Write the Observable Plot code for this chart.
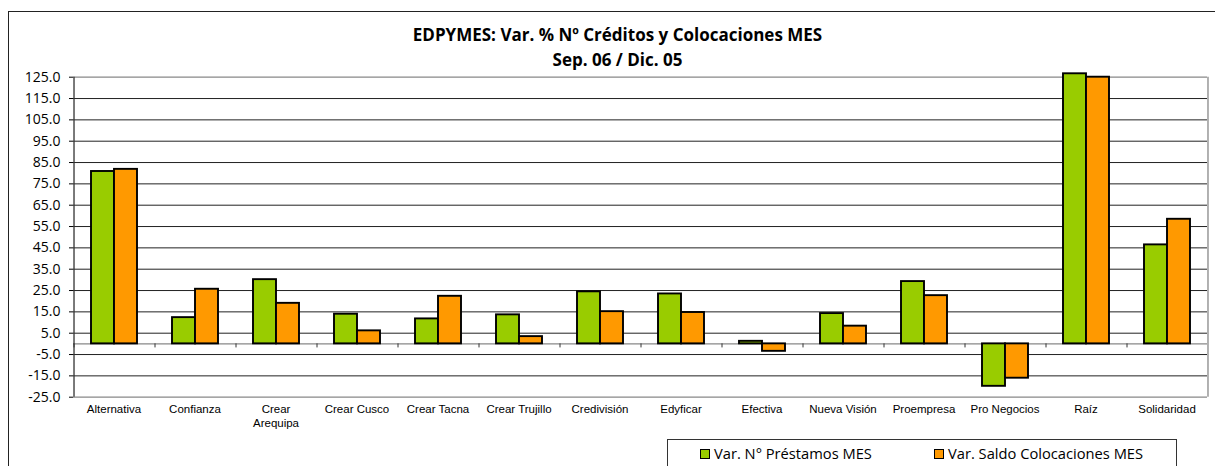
<!DOCTYPE html>
<html>
<head>
<meta charset="utf-8">
<script src="https://cdn.jsdelivr.net/npm/d3@7"></script>
<script src="https://cdn.jsdelivr.net/npm/@observablehq/plot@0.6"></script>
<style>
  html, body { margin: 0; padding: 0; background: #fff; }
  body { width: 1215px; height: 466px; overflow: hidden; position: relative; }
  #frame { position: absolute; left: 8px; top: 11px; width: 1300px; height: 500px; border: 1px solid #222; box-sizing: border-box; }
  #chart { position: absolute; left: 0; top: 0; }
  #title { position: absolute; left: 0; top: 22px; width: 1235px; text-align: center; font-family: "Open Sans", sans-serif; font-weight: bold; font-size: 17px; line-height: 25px; color: #000; }
  #legend { position: absolute; left: 667px; top: 439px; width: 510px; height: 40px; border: 1px solid #333; box-sizing: border-box; background: #fff; font-family: "Open Sans", sans-serif; font-size: 14.7px; color: #000; }
  .item { position: absolute; top: 3px; white-space: nowrap; line-height: 20px; }
  .sw { display: inline-block; width: 8px; height: 8px; border: 1px solid #000; margin-right: 4px; vertical-align: 0px; }
</style>
</head>
<body>
<div id="frame"></div>
<div id="chart"></div>
<div id="title"></div>
<div id="legend"></div>
<script>
const titleLines = ["EDPYMES: Var. % Nº Créditos y Colocaciones MES", "Sep. 06 / Dic. 05"];
const categories = ["Alternativa", "Confianza", "Crear Arequipa", "Crear Cusco", "Crear Tacna", "Crear Trujillo", "Credivisión", "Edyficar", "Efectiva", "Nueva Visión", "Proempresa", "Pro Negocios", "Raíz", "Solidaridad"];
const categoryLabels = ["Alternativa", "Confianza", "Crear\nArequipa", "Crear Cusco", "Crear Tacna", "Crear Trujillo", "Credivisión", "Edyficar", "Efectiva", "Nueva Visión", "Proempresa", "Pro Negocios", "Raíz", "Solidaridad"];
const series = ["Var. N° Préstamos MES", "Var. Saldo Colocaciones MES"];
const prestamos = [80.8, 12.3, 30.1, 13.9, 11.7, 13.6, 24.4, 23.4, 1.2, 14.2, 29.2, -19.9, 126.6, 46.4];
const saldo = [81.8, 25.6, 19.0, 6.1, 22.3, 3.4, 15.1, 14.7, -3.5, 8.3, 22.6, -16.1, 125.0, 58.4];
const yTicks = [-25, -15, -5, 5, 15, 25, 35, 45, 55, 65, 75, 85, 95, 105, 115, 125];
const colors = ["#99CC00", "#FF9900"];

const data = categories.flatMap((c, i) => [
  {cat: c, series: series[0], v: prestamos[i]},
  {cat: c, series: series[1], v: saldo[i]}
]);

const W = 1215, H = 466, mL = 70, mR = 6, mT = 76.7, mB = 69.3;
const pad = 0.74;
const step = (W - mL - mR) / categories.length;
const bw = step / (2 + 2 * pad);
const edge = pad * bw + bw / 2; // distance from first bar centre to category boundary

const innerTicks = yTicks.filter(t => t !== yTicks[0] && t !== yTicks[yTicks.length - 1]);
const outerTicks = [yTicks[0], yTicks[yTicks.length - 1]];

const chart = Plot.plot({
  width: W, height: H,
  marginLeft: mL, marginRight: mR, marginTop: mT, marginBottom: mB,
  style: {fontFamily: "Open Sans, sans-serif", fontSize: "13px", color: "#000", background: "transparent"},
  fx: {domain: categories, padding: 0, label: null},
  x: {domain: series, paddingInner: 0, paddingOuter: pad, axis: null},
  y: {domain: [yTicks[0], yTicks[yTicks.length - 1]], label: null},
  color: {domain: series, range: colors},
  marks: [
    Plot.ruleY(innerTicks, {stroke: "#222", strokeWidth: 1}),
    Plot.ruleY(outerTicks, {stroke: "#888", strokeWidth: 1.3}),
    Plot.ruleX([{cat: categories[categories.length - 1], s: series[1]}], {fx: "cat", x: "s", dx: edge, y1: yTicks[0], y2: yTicks[yTicks.length - 1], stroke: "#888", strokeWidth: 1.3}),
    Plot.ruleY([0], {stroke: "#888", strokeWidth: 1.2}),
    Plot.ruleX([series[0]], {x: d => d, dx: -edge, y1: 0, y2: -1.9, stroke: "#333"}),
    Plot.barY(data, {fx: "cat", x: "series", y: "v", fill: "series", stroke: "#000", strokeWidth: 1.9}),
    Plot.ruleX([{cat: categories[0], s: series[0]}], {fx: "cat", x: "s", dx: -edge, y1: yTicks[0], y2: yTicks[yTicks.length - 1], stroke: "#333", strokeWidth: 1.3}),
    Plot.axisY({ticks: yTicks, tickFormat: d => d.toFixed(1), tickSize: 4, tickPadding: 9, label: null, fontSize: 14}),
    Plot.axisFx({anchor: "bottom", tickSize: 0, tickPadding: 6, label: null, fontFamily: "Liberation Sans, Arial, sans-serif", fontSize: 11.5, lineHeight: 1.2, tickFormat: d => categoryLabels[categories.indexOf(d)]})
  ]
});
document.getElementById("chart").appendChild(chart);

document.getElementById("title").innerHTML = titleLines.join("<br>");
const legend = document.getElementById("legend");
const legendLefts = [32, 266];
series.forEach((s, i) => {
  const it = document.createElement("div");
  it.className = "item";
  it.style.left = legendLefts[i] + "px";
  it.innerHTML = `<span class="sw" style="background:${colors[i]}"></span>${s}`;
  legend.appendChild(it);
});
</script>
</body>
</html>
